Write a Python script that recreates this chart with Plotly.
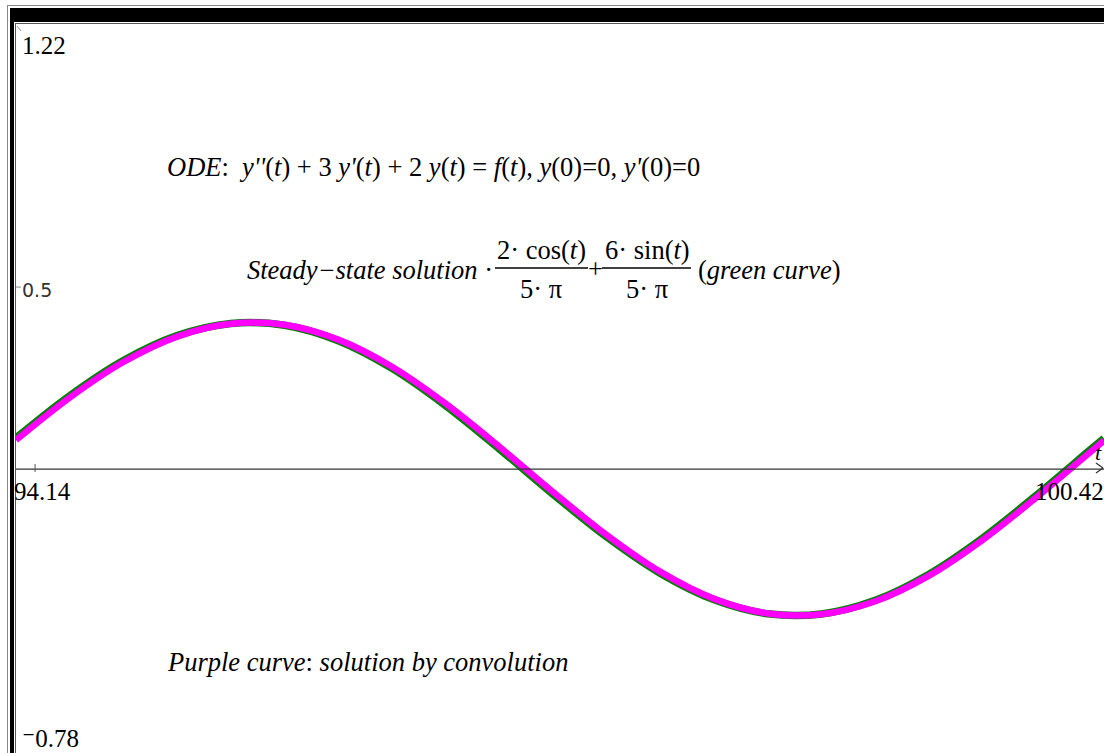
import plotly.graph_objects as go

# Graph window
x_window = [94.14, 100.42]
y_window = [-0.78, 1.22]
x_tick_vals = [94.25]
y_tick_vals = [0.5]

# Sampled time values
t_vals = [94.14, 94.45, 94.76, 95.07, 95.38, 95.69, 96.00, 96.31, 96.62, 96.93, 97.24,
          97.55, 97.86, 98.17, 98.48, 98.79, 99.10, 99.41, 99.72, 100.03, 100.34, 100.42]

# Steady-state solution (green)
green_vals = [0.0855, 0.2015, 0.2982, 0.3665, 0.3999, 0.3951, 0.3527, 0.2767, 0.1742, 0.0552,
              -0.0691, -0.1868, -0.2867, -0.3592, -0.3976, -0.3980, -0.3605, -0.2886, -0.1892,
              -0.0718, 0.0525, 0.0842]

# Solution by convolution (magenta)
purple_vals = [0.0796, 0.1963, 0.2941, 0.3640, 0.3992, 0.3963, 0.3556, 0.2811, 0.1796, 0.0612,
               -0.0632, -0.1814, -0.2825, -0.3565, -0.3966, -0.3989, -0.3632, -0.2928, -0.1945,
               -0.0777, 0.0465, 0.0783]

W, H = 1104, 753
L, T = 16, 25
PW, PH = W - L, H - T


def px(x):
    return (x - L) / PW


def py(y):
    return (H - y) / PH


fig = go.Figure()
fig.add_trace(go.Scatter(x=t_vals, y=green_vals, mode="lines",
                         line=dict(color="#008000", width=7.5, shape="spline"),
                         hoverinfo="skip", showlegend=False))
fig.add_trace(go.Scatter(x=t_vals, y=purple_vals, mode="lines",
                         line=dict(color="#ff00ff", width=6.5, shape="spline"),
                         hoverinfo="skip", showlegend=False))

shapes = []


def prect(x0, y0, x1, y1, color):
    shapes.append(dict(type="rect", xref="paper", yref="paper",
                       x0=px(x0), x1=px(x1), y0=py(y1), y1=py(y0),
                       fillcolor=color, line=dict(width=0), layer="above"))


def pline(x0, y0, x1, y1, color, w=1):
    shapes.append(dict(type="line", xref="paper", yref="paper",
                       x0=px(x0), x1=px(x1), y0=py(y0), y1=py(y1),
                       line=dict(color=color, width=w), layer="above"))


# Window frame
prect(7, 5, W, 6, "#888888")
prect(7, 5, 8, H, "#888888")
prect(10, 8, W, 22, "#000000")
prect(10, 8, 14, H, "#000000")
prect(15, 23, W, 24, "#555555")
prect(15, 23, 16, H, "#555555")
pline(17, 26, 21, 31, "#999999", 1)

# Horizontal axis with arrowhead
shapes.append(dict(type="line", xref="x", yref="y", x0=x_window[0], x1=x_window[1],
                   y0=0, y1=0, line=dict(color="#333333", width=1.2)))
pline(1096, 463, 1103, 468, "#333333", 1.2)
pline(1096, 473, 1103, 468, "#333333", 1.2)

for xv in x_tick_vals:
    shapes.append(dict(type="line", xref="x", yref="paper", x0=xv, x1=xv,
                       y0=py(472), y1=py(464), line=dict(color="#555555", width=1)))
for yv in y_tick_vals:
    shapes.append(dict(type="line", xref="paper", yref="y", x0=px(16), x1=px(21),
                       y0=yv, y1=yv, line=dict(color="#888888", width=1)))

SERIF = "'Liberation Serif', 'Times New Roman', Times, 'DejaVu Serif', serif"
annotations = []


def label(x, y, text, size=26.5, anchor="left", family=SERIF, color="#000000"):
    annotations.append(dict(xref="paper", yref="paper", x=px(x), y=py(y), text=text,
                            showarrow=False, xanchor=anchor, yanchor="middle",
                            font=dict(family=family, size=size, color=color)))


# Window limits and tick labels
label(20, 45, f"{y_window[1]:.2f}", size=25)
label(20, 290, f"{y_tick_vals[0]:g}", size=19, family="DejaVu Sans", color="#333333")
label(20, 738, f"\u207b{abs(y_window[0]):.2f}", size=25)
label(12, 492, f"{x_window[0]:.2f}", size=25)
label(W + 2, 492, f"{x_window[1]:.2f}", size=25, anchor="right")
label(W, 452, "<i>t</i>", size=22, anchor="right")

# Equation texts
label(165, 167, "<i>ODE</i>:  <i>y''</i>(<i>t</i>) + 3 <i>y'</i>(<i>t</i>) + 2 <i>y</i>(<i>t</i>) = "
                "<i>f</i>(<i>t</i>), <i>y</i>(0)=0, <i>y'</i>(0)=0")
label(245, 270, "<i>Steady\u2212state solution</i> \u00b7")
label(541, 250, "2\u00b7 cos(<i>t</i>)", anchor="center")
label(541, 289, "5\u00b7 \u03c0", anchor="center")
pline(495, 268, 588, 268, "#000000", 1.3)
label(595, 269, "+", anchor="center")
label(647, 250, "6\u00b7 sin(<i>t</i>)", anchor="center")
label(647, 289, "5\u00b7 \u03c0", anchor="center")
pline(602, 268, 691, 268, "#000000", 1.3)
label(696, 270, "(<i>green curve</i>)")
label(165, 662, "<i>Purple curve</i>: <i>solution by convolution</i>")

fig.update_layout(
    width=W, height=H,
    margin=dict(l=L, r=0, t=T, b=0),
    paper_bgcolor="white", plot_bgcolor="white",
    xaxis=dict(range=x_window, visible=False, fixedrange=True),
    yaxis=dict(range=y_window, visible=False, fixedrange=True),
    shapes=shapes, annotations=annotations,
    showlegend=False,
)

fig.write_html("out.html", config={"displayModeBar": False})
